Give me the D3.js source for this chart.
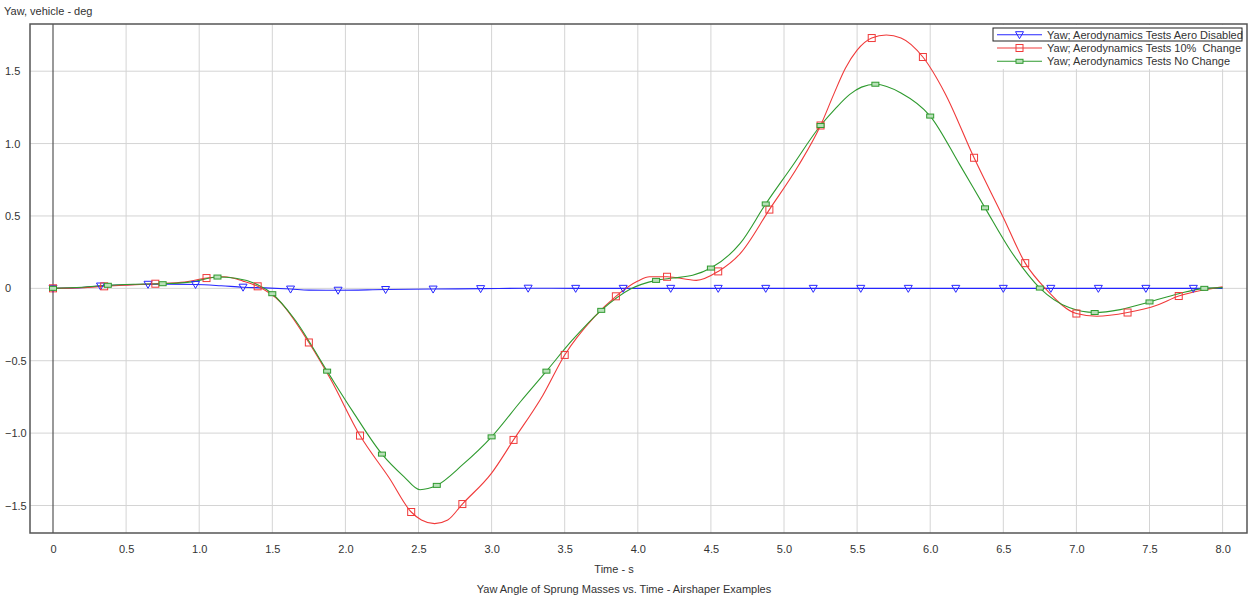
<!DOCTYPE html>
<html><head><meta charset="utf-8">
<script src="https://cdn.jsdelivr.net/npm/d3@7/dist/d3.min.js"></script>
<style>
body{margin:0;background:#fff;}
text{font-family:"Liberation Sans",Arial,sans-serif;font-size:11px;fill:#333;white-space:pre;}
</style></head><body>
<svg id="c" width="1253" height="599"></svg>
<script>
const xTicks = [0,0.5,1,1.5,2,2.5,3,3.5,4,4.5,5,5.5,6,6.5,7,7.5,8];
const yTicks = [-1.5,-1,-0.5,0,0.5,1,1.5];
const seriesNames = ["Yaw; Aerodynamics Tests Aero Disabled","Yaw; Aerodynamics Tests 10%  Change","Yaw; Aerodynamics Tests No Change"];

const blueData = [[0,0],[0.15,0.003],[0.325,0.016],[0.5,0.025],[0.65,0.028],[0.8,0.029],[0.975,0.027],[1.15,0.018],[1.3,0.008],[1.45,0.003],[1.625,-0.005],[1.75,-0.012],[1.95,-0.013],[2.275,-0.008],[2.6,-0.005],[2.925,-0.002],[3.25,0.001],[3.575,0],[3.9,0],[4.225,0],[4.55,0],[4.875,0],[5.2,0],[5.525,0],[5.85,0],[6.175,0],[6.5,0],[6.825,0],[7.15,0],[7.475,0],[7.8,0],[8.0,0]];
const blueMarkers = [0,0.325,0.65,0.975,1.3,1.625,1.95,2.275,2.6,2.925,3.25,3.575,3.9,4.225,4.55,4.875,5.2,5.525,5.85,6.175,6.5,6.825,7.15,7.475,7.8];

const redData = [[0,0],[0.2,0.005],[0.35,0.014],[0.5,0.022],[0.7,0.032],[0.9,0.043],[1.05,0.071],[1.17,0.08],[1.3,0.05],[1.4,0.014],[1.55,-0.09],[1.75,-0.374],[1.9,-0.63],[2.1,-1.017],[2.3,-1.31],[2.45,-1.545],[2.52,-1.6],[2.61,-1.625],[2.7,-1.6],[2.8,-1.49],[3.0,-1.276],[3.15,-1.047],[3.35,-0.74],[3.5,-0.46],[3.7,-0.2],[3.85,-0.055],[4.0,0.05],[4.08,0.08],[4.2,0.08],[4.4,0.055],[4.55,0.117],[4.7,0.24],[4.9,0.544],[5.1,0.85],[5.25,1.125],[5.34,1.34],[5.42,1.52],[5.5,1.645],[5.6,1.729],[5.7,1.75],[5.8,1.73],[5.95,1.598],[6.1,1.35],[6.3,0.902],[6.5,0.49],[6.65,0.174],[6.8,-0.014],[7.0,-0.174],[7.14,-0.193],[7.35,-0.167],[7.55,-0.117],[7.7,-0.053],[7.85,-0.015],[8.0,0.01]];
const redMarkers = [0,0.35,0.7,1.05,1.4,1.75,2.1,2.45,2.8,3.15,3.5,3.85,4.2,4.55,4.9,5.25,5.6,5.95,6.3,6.65,7.0,7.35,7.7];

const greenData = [[0,0],[0.2,0.008],[0.375,0.021],[0.55,0.028],[0.75,0.032],[0.95,0.045],[1.125,0.078],[1.25,0.07],[1.4,0.025],[1.5,-0.037],[1.65,-0.21],[1.875,-0.572],[2.05,-0.85],[2.25,-1.145],[2.4,-1.3],[2.51,-1.391],[2.625,-1.361],[2.8,-1.22],[3.0,-1.026],[3.2,-0.78],[3.375,-0.572],[3.55,-0.36],[3.75,-0.152],[3.95,-0.005],[4.125,0.055],[4.24,0.071],[4.375,0.09],[4.5,0.14],[4.7,0.31],[4.875,0.583],[5.05,0.835],[5.25,1.125],[5.35,1.24],[5.45,1.34],[5.53,1.39],[5.625,1.41],[5.8,1.35],[6.0,1.19],[6.2,0.858],[6.375,0.556],[6.55,0.26],[6.75,0.002],[6.95,-0.133],[7.125,-0.167],[7.3,-0.147],[7.5,-0.094],[7.7,-0.037],[7.875,0],[8.0,0.005]];
const greenMarkers = [0,0.375,0.75,1.125,1.5,1.875,2.25,2.625,3.0,3.375,3.75,4.125,4.5,4.875,5.25,5.625,6.0,6.375,6.75,7.125,7.5,7.875];

const svg = d3.select("#c");
const L = 30, R = 1247, T = 24, B = 533;
const x = d3.scaleLinear().domain([0, 8]).range([53, 1222.6]);
const y = d3.scaleLinear().domain([-1.69, 1.826]).range([533, 24]);
const fmt = d => d === 0 ? "0" : d3.format(".1f")(d);

// grid
svg.append("g").selectAll("line").data(xTicks.filter(d => d > 0)).join("line")
  .attr("x1", d => x(d)).attr("x2", d => x(d)).attr("y1", T).attr("y2", B)
  .attr("stroke", "#d4d4d4").attr("stroke-width", 1);
svg.append("g").selectAll("line").data(yTicks).join("line")
  .attr("x1", L).attr("x2", R).attr("y1", d => y(d)).attr("y2", d => y(d))
  .attr("stroke", "#d4d4d4").attr("stroke-width", 1);
// zero axis line
svg.append("line").attr("x1", x(0)).attr("x2", x(0)).attr("y1", T).attr("y2", B)
  .attr("stroke", "#555").attr("stroke-width", 1.2);

// legend background
svg.append("rect").attr("x", 990).attr("y", T + 1).attr("width", R - 990 - 1).attr("height", 44).attr("fill", "#fff");

// axes
const xa = svg.append("g").attr("transform", `translate(0,${B})`)
  .call(d3.axisBottom(x).tickValues(xTicks).tickFormat(fmt).tickSize(0).tickPadding(12));
xa.select(".domain").remove();
xa.selectAll("text").style("font-size", "11px").attr("fill", "#333");
const ya = svg.append("g").attr("transform", `translate(5,0)`)
  .call(d3.axisLeft(y).tickValues(yTicks).tickFormat(fmt).tickSize(0).tickPadding(0));
ya.select(".domain").remove();
ya.selectAll("text").attr("text-anchor", "start").attr("x", 0).style("font-size", "11px").attr("fill", "#333");

// frame
svg.append("rect").attr("x", L).attr("y", T).attr("width", R - L).attr("height", B - T)
  .attr("fill", "none").attr("stroke", "#555").attr("stroke-width", 1.5);

const line = d3.line().x(d => x(d[0])).y(d => y(d[1])).curve(d3.curveMonotoneX);
const colors = ["#2626ff", "#f03a3a", "#2e9a2e"];
const sets = [[blueData, blueMarkers], [redData, redMarkers], [greenData, greenMarkers]];

function marker(g, i, cx, cy) {
  if (i === 0) {
    g.append("path").attr("d", `M${cx-4},${cy-3}L${cx+4},${cy-3}L${cx},${cy+4}Z`)
      .attr("fill", "none").attr("stroke", colors[0]).attr("stroke-width", 1);
  } else if (i === 1) {
    g.append("rect").attr("x", cx - 3.5).attr("y", cy - 3.5).attr("width", 7).attr("height", 7)
      .attr("fill", "none").attr("stroke", colors[1]).attr("stroke-width", 1);
  } else {
    g.append("rect").attr("x", cx - 3.5).attr("y", cy - 2).attr("width", 7).attr("height", 4)
      .attr("fill", "#b8e0b8").attr("stroke", colors[2]).attr("stroke-width", 1);
  }
}

const order = [0, 1, 2];
order.forEach(i => {
  const [data] = sets[i];
  svg.append("path").datum(data).attr("d", line).attr("fill", "none")
    .attr("stroke", colors[i]).attr("stroke-width", 1.1);
});
order.forEach(i => {
  const [data, marks] = sets[i];
  const g = svg.append("g");
  marks.forEach(t => {
    const p = data.find(d => Math.abs(d[0] - t) < 1e-9);
    if (p) marker(g, i, x(p[0]), y(p[1]));
  });
});

// legend
const lg = svg.append("g");
const rowsY = [34.7, 48, 61.3];
lg.append("rect").attr("x", 993).attr("y", 28).attr("width", 249).attr("height", 13)
  .attr("fill", "none").attr("stroke", "#222").attr("stroke-width", 1);
seriesNames.forEach((n, i) => {
  lg.append("line").attr("x1", 997).attr("x2", 1042).attr("y1", rowsY[i]).attr("y2", rowsY[i])
    .attr("stroke", colors[i]).attr("stroke-width", 1.1);
  marker(lg, i, 1019.5, rowsY[i]);
  lg.append("text").attr("x", 1047).attr("y", rowsY[i]).attr("dy", "0.35em").attr("xml:space", "preserve").text(n);
});

// titles
svg.append("text").attr("x", 4).attr("y", 15).text("Yaw, vehicle - deg");
svg.append("text").attr("x", 614).attr("y", 573).attr("text-anchor", "middle").text("Time - s");
svg.append("text").attr("x", 624).attr("y", 593).attr("text-anchor", "middle").text("Yaw Angle of Sprung Masses vs. Time - Airshaper Examples");
</script>
</body></html>
